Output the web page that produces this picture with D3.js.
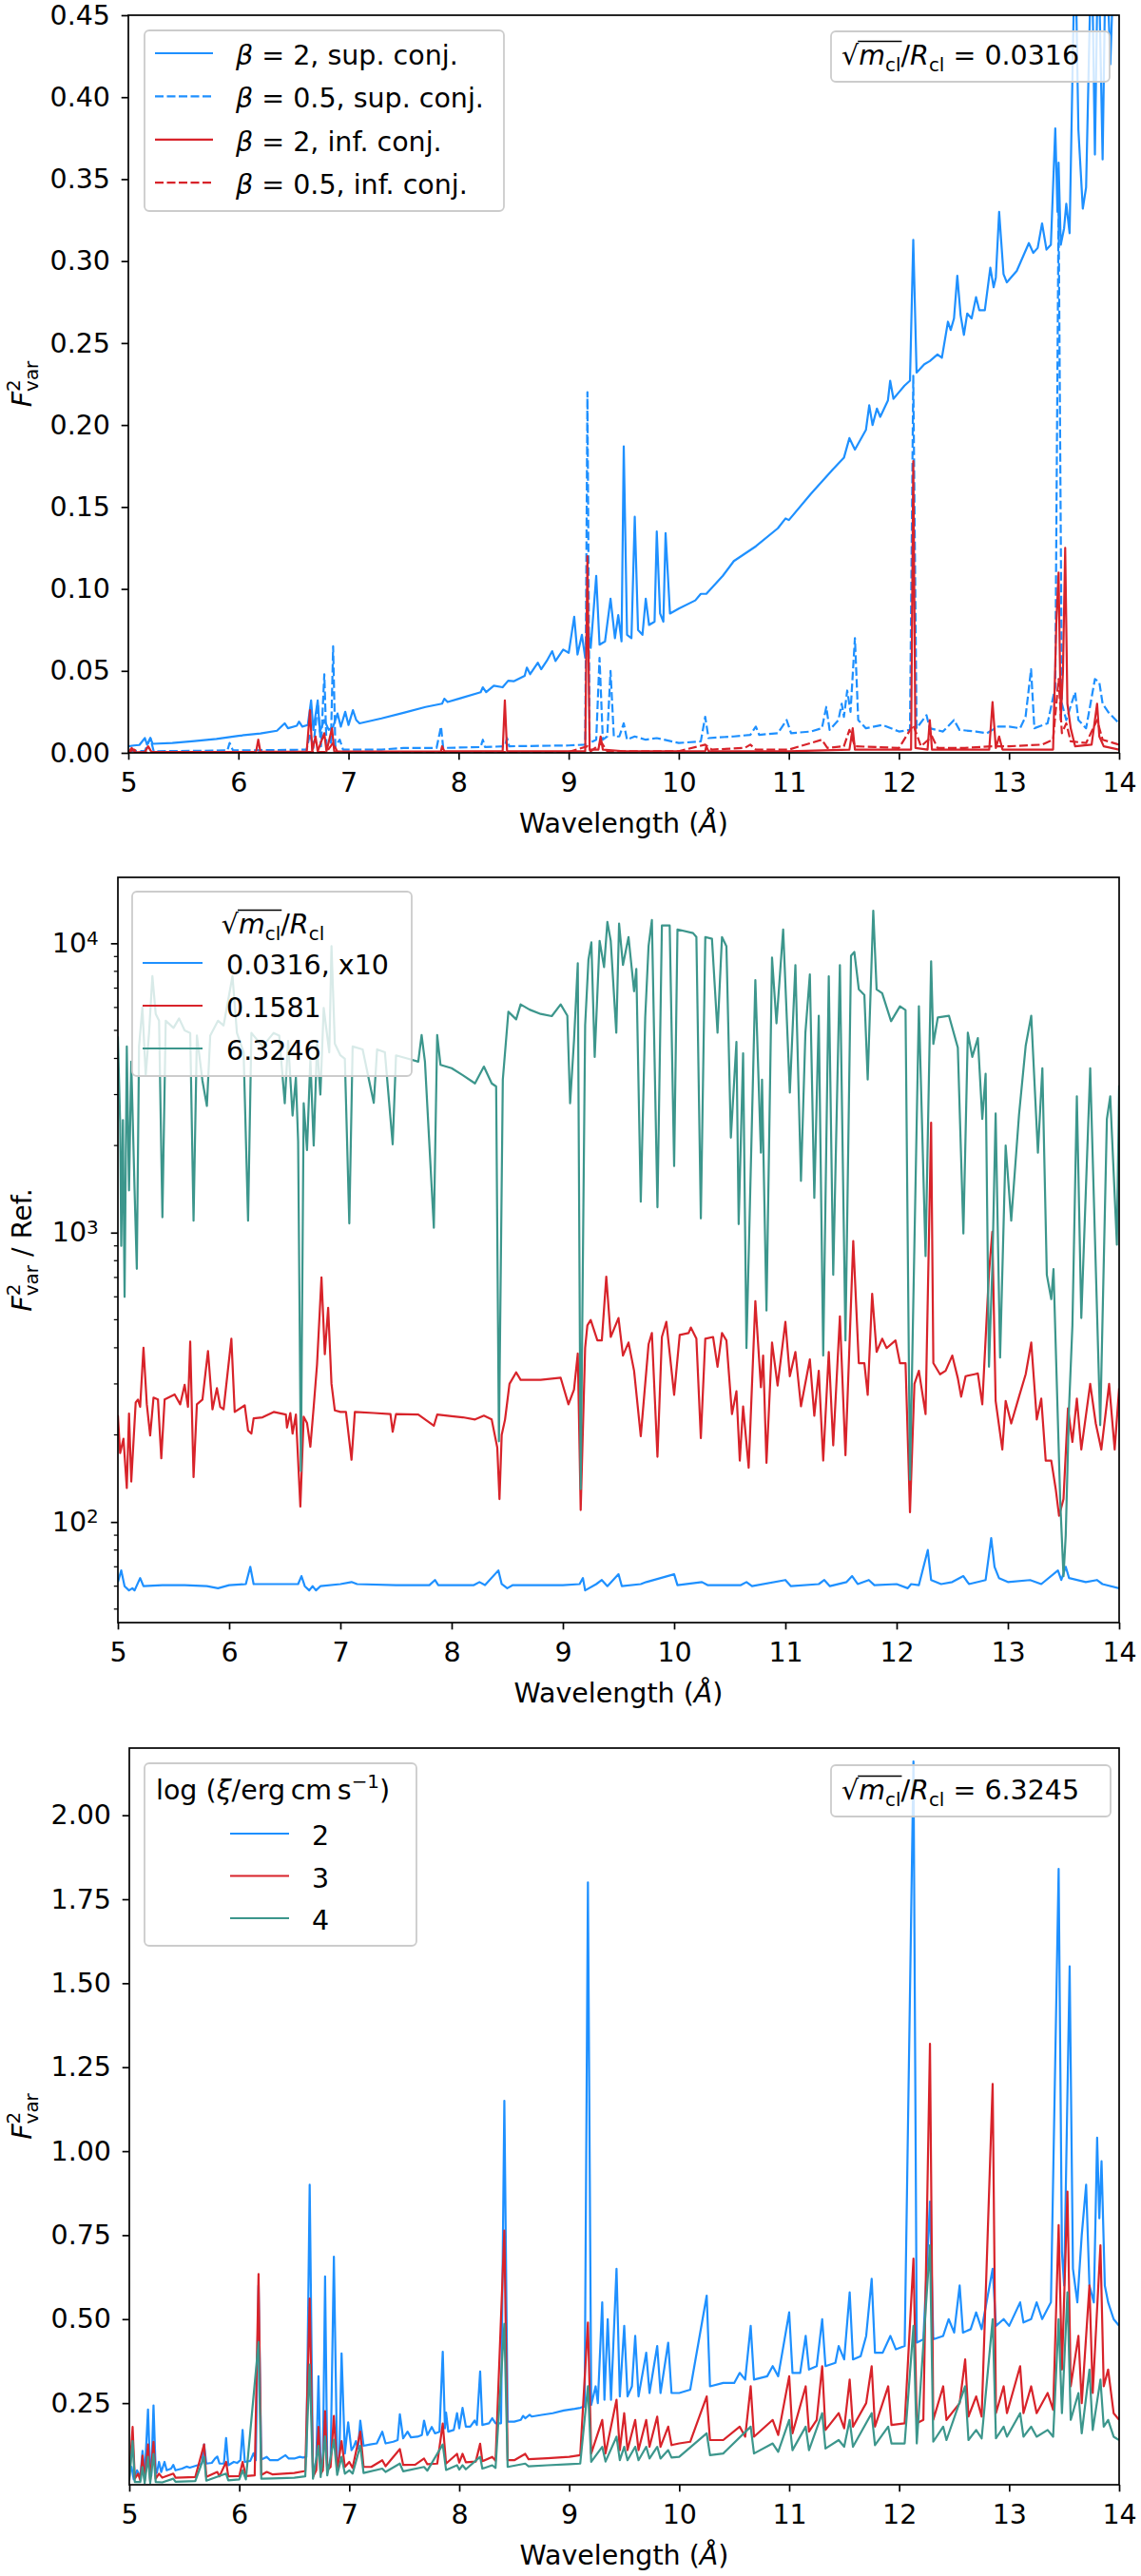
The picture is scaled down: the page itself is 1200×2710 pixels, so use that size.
<!DOCTYPE html>
<html>
<head>
<meta charset="utf-8">
<script src="https://cdn.jsdelivr.net/npm/d3@7"></script>
<style>
  body { margin: 0; background: #fff; }
  text { font-family: "DejaVu Sans", sans-serif; fill: #000; white-space: pre; }
</style>
</head>
<body>
<div id="container"></div>
<script>
/* DATA: [wavelength (Å), value] */

const xTicks = [5, 6, 7, 8, 9, 10, 11, 12, 13, 14];
const p1YTicks = [0, 0.05, 0.10, 0.15, 0.20, 0.25, 0.30, 0.35, 0.40, 0.45];
const p2Decades = [100, 1000, 10000];
const p3YTicks = [0.25, 0.50, 0.75, 1.00, 1.25, 1.50, 1.75, 2.00];

// top panel: beta = 2 / 0.5, superior / inferior conjunction
const p1Sup2 = [[5.00,0.004],[5.05,0.0045],[5.10,0.0048],[5.15,0.009],[5.17,0.005],[5.20,0.009],[5.22,0.0055],[5.40,0.006],[5.60,0.0072],[5.80,0.0085],[6.00,0.0104],[6.20,0.0118],[6.35,0.0135],[6.42,0.018],[6.45,0.015],[6.53,0.0165],[6.55,0.019],[6.58,0.016],[6.63,0.017],[6.66,0.032],[6.68,0.014],[6.72,0.032],[6.74,0.013],[6.78,0.020],[6.82,0.014],[6.86,0.016],[6.90,0.024],[6.93,0.016],[6.97,0.025],[7.00,0.017],[7.04,0.026],[7.07,0.020],[7.10,0.018],[7.30,0.021],[7.50,0.0244],[7.70,0.028],[7.85,0.030],[7.87,0.033],[7.90,0.031],[8.00,0.033],[8.20,0.037],[8.22,0.040],[8.25,0.037],[8.32,0.041],[8.40,0.040],[8.45,0.044],[8.50,0.0437],[8.60,0.047],[8.62,0.052],[8.65,0.048],[8.72,0.055],[8.75,0.051],[8.80,0.056],[8.85,0.062],[8.88,0.056],[8.95,0.063],[9.00,0.061],[9.05,0.083],[9.08,0.060],[9.12,0.072],[9.15,0.058],[9.17,0.078],[9.20,0.064],[9.25,0.108],[9.28,0.066],[9.33,0.068],[9.38,0.094],[9.42,0.070],[9.45,0.084],[9.48,0.068],[9.50,0.187],[9.53,0.072],[9.57,0.070],[9.60,0.144],[9.63,0.075],[9.67,0.072],[9.70,0.094],[9.73,0.078],[9.78,0.080],[9.80,0.135],[9.83,0.085],[9.86,0.080],[9.88,0.134],[9.92,0.085],[10.00,0.088],[10.15,0.093],[10.20,0.097],[10.25,0.097],[10.40,0.108],[10.50,0.117],[10.70,0.126],[10.90,0.137],[10.97,0.143],[11.00,0.142],[11.20,0.158],[11.40,0.173],[11.50,0.180],[11.55,0.192],[11.60,0.185],[11.70,0.197],[11.73,0.212],[11.76,0.200],[11.80,0.210],[11.83,0.205],[11.90,0.215],[11.92,0.227],[11.95,0.216],[12.00,0.220],[12.05,0.224],[12.10,0.227],[12.13,0.313],[12.16,0.232],[12.23,0.237],[12.28,0.239],[12.35,0.243],[12.39,0.241],[12.445,0.263],[12.47,0.258],[12.50,0.265],[12.53,0.291],[12.56,0.267],[12.59,0.255],[12.62,0.268],[12.66,0.265],[12.70,0.278],[12.73,0.270],[12.78,0.270],[12.83,0.296],[12.86,0.284],[12.88,0.290],[12.91,0.330],[12.95,0.292],[12.98,0.287],[13.07,0.294],[13.18,0.311],[13.22,0.305],[13.26,0.308],[13.30,0.323],[13.34,0.307],[13.38,0.310],[13.42,0.381],[13.44,0.330],[13.45,0.360],[13.47,0.310],[13.50,0.320],[13.52,0.335],[13.55,0.317],[13.60,0.500],[13.63,0.380],[13.67,0.332],[13.70,0.345],[13.75,0.500],[13.78,0.365],[13.81,0.500],[13.85,0.362],[13.88,0.500],[13.92,0.420],[13.96,0.500],[14.00,0.450]];

const p1Sup05 = [[5.00,0.001],[5.15,0.0012],[5.20,0.009],[5.23,0.001],[5.60,0.0012],[5.90,0.0015],[5.92,0.006],[5.95,0.0015],[6.50,0.0018],[6.62,0.002],[6.65,0.012],[6.68,0.003],[6.72,0.030],[6.75,0.004],[6.78,0.048],[6.80,0.004],[6.84,0.006],[6.86,0.065],[6.88,0.004],[6.92,0.008],[6.95,0.002],[7.30,0.002],[7.50,0.003],[7.80,0.003],[7.84,0.016],[7.86,0.003],[8.20,0.0035],[8.22,0.008],[8.24,0.0035],[8.42,0.004],[8.44,0.009],[8.46,0.004],[9.00,0.0045],[9.15,0.005],[9.17,0.220],[9.19,0.006],[9.25,0.008],[9.28,0.058],[9.31,0.008],[9.35,0.010],[9.38,0.050],[9.41,0.010],[9.46,0.010],[9.50,0.018],[9.53,0.008],[9.60,0.010],[9.70,0.008],[9.80,0.009],[10.00,0.006],[10.20,0.007],[10.24,0.022],[10.27,0.009],[10.50,0.010],[10.65,0.011],[10.70,0.016],[10.73,0.011],[10.90,0.012],[10.98,0.020],[11.02,0.012],[11.20,0.013],[11.30,0.015],[11.34,0.028],[11.37,0.014],[11.45,0.020],[11.48,0.030],[11.50,0.022],[11.53,0.038],[11.56,0.025],[11.60,0.070],[11.63,0.020],[11.70,0.015],[11.85,0.017],[12.00,0.013],[12.10,0.014],[12.13,0.230],[12.16,0.015],[12.25,0.023],[12.28,0.015],[12.40,0.013],[12.50,0.020],[12.55,0.014],[12.70,0.013],[12.80,0.012],[12.90,0.016],[13.00,0.016],[13.10,0.015],[13.15,0.022],[13.20,0.051],[13.23,0.015],[13.35,0.018],[13.42,0.040],[13.45,0.335],[13.48,0.030],[13.52,0.020],[13.60,0.037],[13.63,0.020],[13.70,0.015],[13.78,0.045],[13.82,0.043],[13.85,0.030],[13.90,0.025],[14.00,0.018]];

const p1Inf2 = [[5.00,0.0004],[5.03,0.003],[5.06,0.0004],[5.15,0.0005],[5.18,0.004],[5.21,0.0005],[5.60,0.0005],[6.16,0.0006],[6.18,0.008],[6.20,0.0006],[6.62,0.0008],[6.65,0.026],[6.67,0.001],[6.70,0.010],[6.72,0.001],[6.78,0.012],[6.80,0.001],[6.85,0.015],[6.87,0.001],[7.10,0.0008],[7.84,0.001],[7.85,0.004],[7.87,0.001],[8.40,0.001],[8.42,0.032],[8.44,0.001],[9.15,0.001],[9.17,0.120],[9.19,0.002],[9.27,0.002],[9.29,0.010],[9.31,0.002],[9.50,0.001],[10.24,0.001],[10.25,0.004],[10.27,0.001],[11.00,0.001],[11.55,0.002],[11.58,0.015],[11.60,0.002],[12.11,0.002],[12.13,0.178],[12.15,0.003],[12.26,0.002],[12.28,0.020],[12.30,0.002],[12.82,0.002],[12.85,0.031],[12.88,0.003],[12.91,0.010],[12.94,0.002],[13.40,0.002],[13.43,0.080],[13.45,0.110],[13.47,0.020],[13.49,0.050],[13.51,0.125],[13.53,0.030],[13.56,0.015],[13.60,0.004],[13.75,0.005],[13.80,0.030],[13.82,0.010],[13.86,0.004],[14.00,0.002]];

const p1Inf05 = [[5.00,0.0003],[5.05,0.002],[5.10,0.0003],[6.00,0.0003],[6.80,0.0005],[6.86,0.006],[6.90,0.0005],[9.00,0.0005],[9.17,0.004],[9.20,0.001],[9.30,0.006],[9.35,0.001],[10.00,0.001],[10.24,0.005],[10.30,0.002],[10.60,0.003],[10.65,0.005],[10.70,0.002],[11.00,0.002],[11.30,0.008],[11.35,0.003],[11.50,0.004],[11.55,0.014],[11.60,0.004],[12.00,0.003],[12.13,0.017],[12.20,0.004],[12.30,0.010],[12.35,0.003],[12.60,0.003],[12.85,0.004],[13.00,0.004],[13.30,0.005],[13.40,0.008],[13.45,0.045],[13.48,0.012],[13.52,0.018],[13.56,0.007],[13.70,0.006],[13.80,0.020],[13.85,0.008],[14.00,0.005]];

// middle panel: F2var / Ref. for three sqrt(m_cl)/R_cl
const p2R0316 = [[5.00,62],[5.03,68],[5.06,60],[5.10,58],[5.13,59],[5.15,58],[5.20,64],[5.23,60],[5.40,60.5],[5.60,60.5],[5.80,60],[5.90,59],[6.00,60.5],[6.15,61],[6.19,70],[6.22,61],[6.50,61],[6.62,61],[6.65,65],[6.68,60],[6.72,58],[6.75,60],[6.78,58],[6.82,60],[7.00,61],[7.10,62],[7.15,61],[7.50,60.5],[7.80,60.5],[7.85,63],[7.88,60.5],[8.20,60.5],[8.25,62],[8.30,60.5],[8.42,68],[8.45,61],[8.50,59],[8.55,60.5],[9.00,60.5],[9.15,61],[9.18,64],[9.20,58],[9.30,61],[9.35,63],[9.40,60],[9.50,66],[9.53,60],[9.70,61],[9.75,62],[10.00,66],[10.03,60.5],[10.25,62],[10.30,60.5],[10.60,60.5],[10.65,62],[10.70,60],[11.00,63],[11.05,60],[11.30,61],[11.35,63],[11.40,60],[11.55,62],[11.60,65],[11.65,61],[11.75,63],[11.80,60.5],[12.00,61],[12.10,59],[12.13,61],[12.20,60.5],[12.28,80],[12.31,63],[12.40,61],[12.50,62],[12.60,65],[12.65,61],[12.80,63],[12.85,88],[12.88,70],[12.92,64],[13.00,62],[13.20,63],[13.30,61],[13.45,68],[13.48,63],[13.52,70],[13.55,64],[13.70,62],[13.80,63],[13.85,61],[14.00,59]];

const p2R1581 = [[5.00,234],[5.02,173],[5.05,194],[5.08,131],[5.10,237],[5.12,138],[5.16,259],[5.18,265],[5.20,250],[5.23,400],[5.26,255],[5.29,199],[5.32,269],[5.36,265],[5.39,166],[5.42,265],[5.51,276],[5.56,255],[5.60,298],[5.63,250],[5.65,420],[5.68,143],[5.71,255],[5.76,265],[5.81,390],[5.85,245],[5.89,290],[5.92,250],[5.95,245],[6.02,430],[6.05,240],[6.14,253],[6.17,207],[6.20,202],[6.22,228],[6.30,230],[6.40,240],[6.51,235],[6.52,212],[6.55,238],[6.57,202],[6.60,235],[6.64,113],[6.67,231],[6.70,220],[6.73,182],[6.76,250],[6.79,350],[6.83,700],[6.86,380],[6.89,550],[6.92,300],[6.95,243],[7.00,240],[7.05,240],[7.10,164],[7.13,240],[7.30,238],[7.45,236],[7.47,205],[7.50,236],[7.70,235],[7.84,215],[7.87,235],[8.00,232],[8.10,230],[8.21,226],[8.29,233],[8.36,226],[8.41,181],[8.43,120],[8.45,200],[8.48,226],[8.52,300],[8.58,329],[8.62,310],[8.80,310],[8.98,315],[9.05,255],[9.10,287],[9.134,382],[9.16,110],[9.20,400],[9.22,478],[9.25,499],[9.31,424],[9.35,424],[9.39,704],[9.43,436],[9.50,507],[9.54,376],[9.59,417],[9.64,333],[9.70,198],[9.77,411],[9.80,450],[9.85,168],[9.89,436],[9.93,492],[10.00,275],[10.05,443],[10.13,450],[10.15,470],[10.20,430],[10.24,195],[10.28,430],[10.35,436],[10.39,344],[10.43,450],[10.47,424],[10.52,236],[10.56,283],[10.59,163],[10.62,251],[10.67,154],[10.73,580],[10.78,292],[10.80,376],[10.83,160],[10.88,417],[10.93,296],[11.00,492],[11.04,319],[11.09,387],[11.14,251],[11.22,365],[11.26,233],[11.30,333],[11.34,163],[11.39,387],[11.43,184],[11.49,514],[11.54,170],[11.61,935],[11.66,354],[11.71,354],[11.74,275],[11.78,615],[11.82,387],[11.87,430],[11.91,399],[11.99,424],[12.03,354],[12.08,354],[12.12,108],[12.16,300],[12.20,333],[12.26,236],[12.31,2400],[12.33,354],[12.39,324],[12.44,333],[12.50,376],[12.55,314],[12.58,271],[12.62,319],[12.70,324],[12.73,326],[12.77,255],[12.83,726],[12.86,1007],[12.89,262],[12.95,178],[12.98,262],[13.03,219],[13.10,271],[13.16,324],[13.21,417],[13.26,226],[13.30,267],[13.34,163],[13.39,163],[13.43,130],[13.46,105],[13.50,120],[13.54,247],[13.58,189],[13.62,267],[13.66,178],[13.74,300],[13.79,219],[13.84,178],[13.91,300],[13.96,178],[14.00,290]];

const p2R6325 = [[5.00,4770],[5.02,2400],[5.03,900],[5.045,2450],[5.06,600],[5.08,4400],[5.10,1400],[5.12,3900],[5.15,1400],[5.17,750],[5.19,4400],[5.22,6000],[5.25,3500],[5.28,4900],[5.31,7700],[5.34,5700],[5.37,5400],[5.40,1130],[5.43,5400],[5.50,5100],[5.55,5500],[5.60,5000],[5.65,4900],[5.68,1100],[5.71,4800],[5.76,3350],[5.80,2740],[5.83,4800],[5.90,5400],[5.95,5200],[6.03,7700],[6.07,4900],[6.13,4200],[6.17,1100],[6.20,4900],[6.30,4400],[6.40,4900],[6.45,4800],[6.50,2800],[6.53,4600],[6.57,2540],[6.60,3440],[6.62,2070],[6.645,150],[6.67,2800],[6.70,1930],[6.73,4000],[6.76,2000],[6.79,4500],[6.82,3000],[6.85,5980],[6.90,4200],[6.92,9770],[6.95,4500],[7.00,4100],[7.04,3990],[7.08,1076],[7.11,4400],[7.20,4300],[7.30,2810],[7.33,4300],[7.40,4200],[7.47,2020],[7.50,4100],[7.60,4000],[7.70,3900],[7.73,4820],[7.76,3900],[7.84,1040],[7.87,4820],[7.90,3800],[8.00,3700],[8.10,3500],[8.21,3280],[8.29,3750],[8.36,3280],[8.40,3200],[8.425,190],[8.46,3380],[8.51,5800],[8.58,5460],[8.62,6150],[8.70,5900],[8.80,5700],[8.90,5600],[8.98,6150],[9.04,5620],[9.065,2800],[9.10,4620],[9.134,8530],[9.16,130],[9.20,5210],[9.23,8790],[9.256,10070],[9.286,4050],[9.33,10200],[9.37,8280],[9.40,11860],[9.43,10200],[9.48,4910],[9.505,11690],[9.54,8410],[9.59,10510],[9.64,6830],[9.66,8160],[9.70,1280],[9.74,5540],[9.77,9770],[9.80,12040],[9.85,1224],[9.89,11520],[9.96,11520],[10.00,1700],[10.03,11170],[10.17,10850],[10.20,10510],[10.24,1120],[10.28,10510],[10.34,10370],[10.39,4910],[10.43,10510],[10.47,9770],[10.51,2130],[10.56,4560],[10.58,1070],[10.62,4170],[10.65,399],[10.73,7460],[10.78,1890],[10.79,3380],[10.83,538],[10.88,8930],[10.92,5290],[10.98,11170],[11.04,3050],[11.09,8410],[11.14,1510],[11.18,4910],[11.22,7810],[11.26,1318],[11.30,5620],[11.34,376],[11.39,7690],[11.43,715],[11.49,8410],[11.54,424],[11.59,9060],[11.62,9330],[11.66,6930],[11.71,6630],[11.74,3380],[11.79,12970],[11.82,6930],[11.87,6720],[11.95,5380],[12.03,6060],[12.08,5880],[12.12,140],[12.20,6060],[12.26,830],[12.31,8660],[12.33,4490],[12.37,5540],[12.47,5620],[12.55,4360],[12.60,993],[12.64,4910],[12.68,4050],[12.73,4700],[12.77,2470],[12.80,3540],[12.83,344],[12.86,748],[12.89,2580],[12.93,370],[12.98,2000],[13.03,1100],[13.10,2550],[13.16,4420],[13.21,5620],[13.27,1890],[13.31,3700],[13.35,715],[13.39,589],[13.41,748],[13.47,120],[13.50,65],[13.52,90],[13.55,250],[13.58,478],[13.62,2960],[13.66,507],[13.74,3700],[13.83,216],[13.89,2470],[13.92,2960],[13.98,908],[14.00,3230]];

// bottom panel: log xi = 2, 3, 4
const p3Xi2 = [[5.00,0.047],[5.02,0.060],[5.04,0.023],[5.07,0.050],[5.10,0.030],[5.12,0.108],[5.14,0.035],[5.17,0.231],[5.19,0.040],[5.20,0.033],[5.22,0.243],[5.24,0.045],[5.25,0.042],[5.27,0.075],[5.29,0.045],[5.32,0.075],[5.34,0.050],[5.38,0.055],[5.40,0.066],[5.42,0.050],[5.48,0.055],[5.52,0.061],[5.55,0.058],[5.62,0.065],[5.66,0.070],[5.68,0.127],[5.70,0.070],[5.75,0.072],[5.78,0.085],[5.80,0.091],[5.82,0.070],[5.86,0.070],[5.88,0.146],[5.90,0.065],[5.95,0.075],[5.98,0.072],[6.01,0.080],[6.03,0.170],[6.05,0.075],[6.10,0.078],[6.13,0.101],[6.15,0.080],[6.175,0.600],[6.20,0.082],[6.25,0.090],[6.28,0.080],[6.35,0.080],[6.42,0.095],[6.45,0.085],[6.50,0.085],[6.55,0.090],[6.58,0.088],[6.61,0.090],[6.64,0.900],[6.67,0.033],[6.70,0.080],[6.72,0.330],[6.74,0.052],[6.76,0.060],[6.78,0.627],[6.80,0.060],[6.83,0.070],[6.86,0.686],[6.89,0.065],[6.91,0.090],[6.93,0.398],[6.96,0.100],[6.99,0.193],[7.02,0.110],[7.04,0.120],[7.06,0.137],[7.08,0.115],[7.10,0.198],[7.13,0.123],[7.19,0.127],[7.25,0.130],[7.30,0.165],[7.33,0.130],[7.40,0.135],[7.44,0.140],[7.46,0.217],[7.49,0.145],[7.53,0.165],[7.56,0.148],[7.62,0.150],[7.66,0.155],[7.68,0.198],[7.71,0.155],[7.75,0.179],[7.78,0.160],[7.82,0.165],[7.85,0.403],[7.87,0.175],[7.88,0.222],[7.90,0.165],[7.95,0.170],[7.98,0.220],[8.00,0.175],[8.03,0.236],[8.06,0.180],[8.10,0.180],[8.14,0.198],[8.16,0.185],[8.19,0.344],[8.21,0.185],[8.27,0.190],[8.30,0.205],[8.33,0.190],[8.38,0.190],[8.41,1.150],[8.44,0.195],[8.50,0.195],[8.56,0.200],[8.58,0.212],[8.60,0.205],[8.64,0.215],[8.66,0.210],[8.75,0.215],[8.85,0.220],[8.95,0.228],[9.05,0.233],[9.10,0.236],[9.14,0.240],[9.17,1.800],[9.20,0.245],[9.24,0.300],[9.26,0.250],[9.30,0.550],[9.32,0.260],[9.35,0.500],[9.38,0.260],[9.43,0.650],[9.46,0.270],[9.50,0.480],[9.53,0.270],[9.57,0.300],[9.60,0.450],[9.63,0.270],[9.70,0.400],[9.73,0.280],[9.80,0.420],[9.83,0.280],[9.90,0.430],[9.93,0.280],[10.00,0.280],[10.10,0.290],[10.25,0.570],[10.28,0.300],[10.40,0.310],[10.50,0.310],[10.55,0.340],[10.60,0.320],[10.65,0.480],[10.68,0.320],[10.80,0.330],[10.85,0.360],[10.90,0.330],[11.00,0.520],[11.03,0.340],[11.10,0.340],[11.15,0.450],[11.18,0.350],[11.25,0.360],[11.30,0.500],[11.33,0.360],[11.42,0.370],[11.45,0.420],[11.50,0.380],[11.55,0.580],[11.58,0.380],[11.65,0.390],[11.70,0.450],[11.75,0.620],[11.78,0.400],[11.85,0.400],[11.92,0.450],[11.97,0.410],[12.05,0.420],[12.13,2.160],[12.16,0.430],[12.22,0.440],[12.28,0.850],[12.31,0.440],[12.40,0.450],[12.45,0.500],[12.50,0.460],[12.55,0.600],[12.58,0.460],[12.65,0.470],[12.70,0.520],[12.75,0.470],[12.85,0.650],[12.88,0.480],[12.95,0.500],[13.00,0.480],[13.10,0.550],[13.13,0.490],[13.20,0.500],[13.25,0.550],[13.30,0.500],[13.38,0.550],[13.45,1.840],[13.48,0.700],[13.50,0.600],[13.55,1.550],[13.58,0.650],[13.62,0.550],[13.66,0.750],[13.70,0.900],[13.73,0.600],[13.77,0.550],[13.80,1.040],[13.82,0.800],[13.84,0.970],[13.87,0.600],[13.90,0.550],[13.95,0.500],[14.00,0.480]];

const p3Xi3 = [[5.00,0.030],[5.03,0.179],[5.05,0.025],[5.08,0.040],[5.10,0.020],[5.12,0.094],[5.14,0.020],[5.17,0.127],[5.19,0.020],[5.22,0.135],[5.24,0.025],[5.27,0.040],[5.30,0.028],[5.40,0.040],[5.42,0.028],[5.60,0.030],[5.68,0.127],[5.70,0.030],[5.80,0.045],[5.82,0.032],[5.88,0.075],[5.90,0.032],[6.00,0.033],[6.03,0.075],[6.06,0.033],[6.14,0.035],[6.175,0.634],[6.20,0.036],[6.25,0.045],[6.30,0.038],[6.50,0.042],[6.60,0.048],[6.64,0.561],[6.67,0.030],[6.70,0.050],[6.72,0.179],[6.74,0.040],[6.76,0.050],[6.78,0.226],[6.80,0.050],[6.83,0.060],[6.86,0.212],[6.89,0.050],[6.93,0.137],[6.96,0.060],[7.00,0.075],[7.03,0.057],[7.10,0.165],[7.13,0.060],[7.20,0.060],[7.30,0.080],[7.33,0.062],[7.46,0.113],[7.49,0.066],[7.60,0.067],[7.68,0.085],[7.71,0.068],[7.80,0.070],[7.85,0.189],[7.88,0.070],[7.98,0.099],[8.00,0.073],[8.03,0.099],[8.06,0.074],[8.15,0.076],[8.19,0.129],[8.21,0.077],[8.30,0.090],[8.33,0.078],[8.41,0.764],[8.44,0.080],[8.50,0.080],[8.60,0.099],[8.63,0.083],[8.80,0.086],[9.00,0.090],[9.10,0.095],[9.17,0.490],[9.20,0.100],[9.30,0.200],[9.33,0.100],[9.43,0.260],[9.46,0.110],[9.50,0.220],[9.53,0.110],[9.60,0.200],[9.63,0.110],[9.70,0.200],[9.73,0.120],[9.80,0.210],[9.83,0.120],[9.90,0.180],[9.93,0.125],[10.00,0.130],[10.10,0.135],[10.25,0.270],[10.28,0.140],[10.40,0.140],[10.55,0.180],[10.60,0.150],[10.65,0.300],[10.68,0.150],[10.85,0.200],[10.90,0.155],[11.00,0.330],[11.03,0.160],[11.15,0.300],[11.18,0.165],[11.25,0.200],[11.30,0.360],[11.33,0.170],[11.45,0.220],[11.50,0.175],[11.55,0.320],[11.58,0.180],[11.70,0.250],[11.75,0.360],[11.78,0.180],[11.90,0.300],[11.93,0.185],[12.05,0.190],[12.13,0.680],[12.16,0.190],[12.22,0.200],[12.28,1.320],[12.31,0.200],[12.40,0.300],[12.43,0.200],[12.55,0.250],[12.60,0.380],[12.63,0.210],[12.70,0.270],[12.75,0.210],[12.85,1.200],[12.88,0.220],[12.95,0.300],[12.98,0.220],[13.10,0.360],[13.13,0.220],[13.20,0.300],[13.25,0.220],[13.35,0.280],[13.40,0.230],[13.45,0.780],[13.48,0.350],[13.53,0.880],[13.56,0.300],[13.63,0.450],[13.66,0.250],[13.73,0.600],[13.76,0.280],[13.83,0.720],[13.86,0.300],[13.90,0.350],[13.95,0.220],[14.00,0.200]];

const p3Xi4 = [[5.00,0.020],[5.03,0.137],[5.05,0.015],[5.10,0.015],[5.12,0.060],[5.14,0.012],[5.17,0.090],[5.19,0.012],[5.22,0.099],[5.24,0.015],[5.30,0.014],[5.40,0.025],[5.42,0.016],[5.60,0.018],[5.68,0.090],[5.70,0.019],[5.88,0.040],[5.90,0.020],[6.00,0.023],[6.03,0.050],[6.06,0.023],[6.175,0.432],[6.20,0.025],[6.30,0.026],[6.50,0.028],[6.60,0.032],[6.64,0.365],[6.67,0.025],[6.72,0.123],[6.74,0.030],[6.78,0.151],[6.80,0.035],[6.86,0.141],[6.89,0.036],[6.93,0.090],[6.96,0.040],[7.00,0.050],[7.03,0.040],[7.10,0.123],[7.13,0.042],[7.30,0.055],[7.33,0.045],[7.46,0.070],[7.49,0.047],[7.68,0.060],[7.71,0.049],[7.85,0.127],[7.88,0.051],[7.98,0.065],[8.00,0.052],[8.03,0.065],[8.06,0.053],[8.19,0.090],[8.21,0.055],[8.30,0.065],[8.33,0.057],[8.41,0.486],[8.44,0.060],[8.60,0.070],[8.63,0.062],[8.80,0.065],[9.00,0.068],[9.10,0.070],[9.17,0.300],[9.20,0.075],[9.30,0.120],[9.33,0.076],[9.43,0.150],[9.46,0.080],[9.50,0.120],[9.53,0.080],[9.60,0.120],[9.63,0.080],[9.70,0.120],[9.73,0.085],[9.80,0.120],[9.83,0.085],[9.90,0.110],[9.93,0.088],[10.00,0.090],[10.25,0.160],[10.28,0.095],[10.40,0.100],[10.65,0.180],[10.68,0.100],[10.85,0.130],[10.90,0.105],[11.00,0.200],[11.03,0.110],[11.15,0.180],[11.18,0.110],[11.30,0.220],[11.33,0.115],[11.45,0.140],[11.50,0.120],[11.55,0.200],[11.58,0.120],[11.75,0.220],[11.78,0.125],[11.90,0.180],[11.93,0.130],[12.05,0.130],[12.13,0.480],[12.16,0.130],[12.28,0.720],[12.31,0.135],[12.40,0.180],[12.43,0.140],[12.60,0.300],[12.63,0.140],[12.70,0.170],[12.75,0.145],[12.85,0.500],[12.88,0.145],[12.95,0.180],[12.98,0.150],[13.10,0.220],[13.13,0.150],[13.20,0.180],[13.25,0.150],[13.35,0.170],[13.40,0.150],[13.45,0.500],[13.48,0.220],[13.53,0.580],[13.56,0.200],[13.63,0.280],[13.66,0.160],[13.73,0.350],[13.76,0.170],[13.83,0.320],[13.86,0.180],[13.90,0.200],[13.95,0.150],[14.00,0.140]];

/* CONSTANTS */
const BLUE = "#1e90ff", RED = "#d8232a", TEAL = "#3c968c";
const FS = 28.5, LW = 2.2, RIGHT = 1177;

const svg = d3.select("#container").append("svg")
  .attr("width", 1200)
  .attr("height", 2710);

// text with italic / sub / sup pieces, like matplotlib mathtext
function mathText(parent, x, y, parts, anchor) {
  const t = parent.append("text")
    .attr("x", x).attr("y", y)
    .attr("font-size", FS)
    .attr("text-anchor", anchor || "start");
  let shift = 0, prev = null;
  parts.forEach(p => {
    const [s, kind] = typeof p === "string" ? [p, ""] : p;
    const k = kind.split(" ");
    const ts = t.append("tspan").text(s);
    let target = 0;
    if (k.includes("sub")) target = 0.24 * FS;
    if (k.includes("sup")) target = -0.42 * FS;
    if (k.includes("sub") || k.includes("sup")) ts.attr("font-size", FS * 0.7);
    if (target !== shift) { ts.attr("dy", target - shift); shift = target; }
    if (k.includes("it")) ts.attr("font-style", "italic");
    if (k.includes("stack") && prev) ts.attr("dx", -prev.node().getComputedTextLength());
    prev = ts;
  });
  return t;
}

// bar over the radicand of sqrt(m_cl)
function sqrtBar(parent, t, from, to) {
  const n = t.node();
  const a = n.getEndPositionOfChar(from).x - 1;
  const b = n.getEndPositionOfChar(to).x + 1;
  const yb = +t.attr("y") - 0.86 * FS;
  parent.append("line")
    .attr("x1", a).attr("x2", b).attr("y1", yb).attr("y2", yb)
    .attr("stroke", "#000").attr("stroke-width", 1.5);
}

const mRatio = [["√", ""], ["m", "it"], ["cl", "sub"], ["/", ""], ["R", "it"], ["cl", "sub"]];

function box(g, x0, y0, x1, y1) {
  g.append("rect")
    .attr("x", x0).attr("y", y0)
    .attr("width", x1 - x0).attr("height", y1 - y0)
    .attr("rx", 5)
    .attr("fill", "white").attr("fill-opacity", 0.8)
    .attr("stroke", "#cccccc").attr("stroke-width", 1.8);
}

function legendLine(g, x0, x1, yy, color, dash) {
  g.append("line")
    .attr("x1", x0).attr("x2", x1).attr("y1", yy).attr("y2", yy)
    .attr("stroke", color).attr("stroke-width", LW)
    .attr("stroke-dasharray", dash ? "9,3.5" : null);
}

function styleAxis(a) {
  a.select(".domain").remove();
  a.selectAll(".tick line").attr("stroke", "#000").attr("stroke-width", 1.7);
  a.selectAll(".tick text").attr("font-size", FS).attr("fill", "#000")
    .style("font-family", '"DejaVu Sans", sans-serif');
}

// one panel: scales, clipped lines, axes, frame
function panel(o) {
  const g = svg.append("g");
  const x = d3.scaleLinear().domain([5, 14]).range([o.left, RIGHT]);
  const y = (o.log ? d3.scaleLog() : d3.scaleLinear())
    .domain(o.yDomain).range([o.bottom, o.top]);

  g.append("clipPath").attr("id", "clip" + o.id)
    .append("rect")
    .attr("x", o.left).attr("y", o.top)
    .attr("width", RIGHT - o.left).attr("height", o.bottom - o.top);

  const lineGen = d3.line()
    .x(d => x(d[0]))
    .y(d => y(d[1]));

  const plot = g.append("g").attr("clip-path", `url(#clip${o.id})`);
  o.series.forEach(s => {
    plot.append("path")
      .datum(s.data)
      .attr("d", lineGen)
      .attr("fill", "none")
      .attr("stroke", s.color)
      .attr("stroke-width", LW)
      .attr("stroke-linejoin", "round")
      .attr("stroke-dasharray", s.dash ? "9,3.5" : null);
  });

  const xa = g.append("g")
    .attr("transform", `translate(0,${o.bottom})`)
    .call(d3.axisBottom(x).tickValues(xTicks).tickFormat(d3.format("d"))
      .tickSizeInner(7.3).tickSizeOuter(0).tickPadding(13));
  styleAxis(xa);

  let yAxis;
  if (o.log) {
    yAxis = d3.axisLeft(y).tickValues(p2Decades).tickFormat(() => "10")
      .tickSizeInner(7.3).tickSizeOuter(0).tickPadding(13);
  } else {
    yAxis = d3.axisLeft(y).tickValues(o.yTicks).tickFormat(d3.format(".2f"))
      .tickSizeInner(7.3).tickSizeOuter(0).tickPadding(11.7);
  }
  const ya = g.append("g").attr("transform", `translate(${o.left},0)`).call(yAxis);
  styleAxis(ya);

  if (o.log) {
    ya.selectAll(".tick text").each(function (d) {
      d3.select(this).append("tspan")
        .attr("dy", "-0.42em").attr("font-size", FS * 0.7)
        .text(Math.round(Math.log10(d)));
    });
    // minor ticks
    const minors = [];
    [10, 100, 1000, 10000].forEach(dec => {
      for (let k = 2; k <= 9; k++) {
        const v = dec * k;
        if (v > o.yDomain[0] && v < o.yDomain[1]) minors.push(v);
      }
    });
    g.selectAll(".minor" + o.id)
      .data(minors)
      .join("line")
      .attr("x1", o.left - 4.2).attr("x2", o.left)
      .attr("y1", d => y(d)).attr("y2", d => y(d))
      .attr("stroke", "#000").attr("stroke-width", 1.25);
  }

  g.append("rect")
    .attr("x", o.left).attr("y", o.top)
    .attr("width", RIGHT - o.left).attr("height", o.bottom - o.top)
    .attr("fill", "none").attr("stroke", "#000").attr("stroke-width", 1.7);

  // x label
  mathText(g, (o.left + RIGHT) / 2, o.bottom + 84,
    [["Wavelength (", ""], ["Å", "it"], [")", ""]], "middle");

  // y label
  const yl = g.append("g")
    .attr("transform", `translate(33,${(o.top + o.bottom) / 2}) rotate(-90)`);
  mathText(yl, 0, 0, o.yLabel, "middle");

  return g;
}

/* TOP PANEL */
const g1 = panel({
  id: 1, left: 135, top: 16, bottom: 792,
  yDomain: [0, 0.45], yTicks: p1YTicks,
  yLabel: [["F", "it"], ["2", "sup"], ["var", "sub stack"]],
  series: [
    { data: p1Sup2, color: BLUE },
    { data: p1Sup05, color: BLUE, dash: true },
    { data: p1Inf2, color: RED },
    { data: p1Inf05, color: RED, dash: true }
  ]
});

box(g1, 152, 32, 530, 222);
const p1Legend = [
  { beta: "2", side: "sup. conj.", color: BLUE, dash: false },
  { beta: "0.5", side: "sup. conj.", color: BLUE, dash: true },
  { beta: "2", side: "inf. conj.", color: RED, dash: false },
  { beta: "0.5", side: "inf. conj.", color: RED, dash: true }
];
p1Legend.forEach((d, i) => {
  const yy = 56 + i * 45.4;
  legendLine(g1, 163, 224, yy, d.color, d.dash);
  mathText(g1, 248, yy + 12, [["β", "it"], [" = " + d.beta + ", " + d.side, ""]]);
});

box(g1, 874, 33, 1167, 86);
const t1 = mathText(g1, 885, 68, mRatio.concat([[" = 0.0316", ""]]));
sqrtBar(g1, t1, 0, 3);

/* MIDDLE PANEL */
const g2 = panel({
  id: 2, left: 124, top: 923, bottom: 1707, log: true,
  yDomain: [44.9, 16900],
  yLabel: [["F", "it"], ["2", "sup"], ["var", "sub stack"], [" / Ref.", ""]],
  series: [
    { data: p2R0316, color: BLUE },
    { data: p2R1581, color: RED },
    { data: p2R6325, color: TEAL }
  ]
});

box(g2, 139, 938, 433, 1132);
const t2 = mathText(g2, 287, 982, mRatio, "middle");
sqrtBar(g2, t2, 0, 3);
const p2Legend = [
  { label: "0.0316, x10", color: BLUE },
  { label: "0.1581", color: RED },
  { label: "6.3246", color: TEAL }
];
p2Legend.forEach((d, i) => {
  const yy = 1013 + i * 45;
  legendLine(g2, 150, 213, yy, d.color);
  mathText(g2, 238, yy + 12, [[d.label, ""]]);
});

/* BOTTOM PANEL */
const g3 = panel({
  id: 3, left: 136, top: 1839, bottom: 2614,
  yDomain: [0.007, 2.2], yTicks: p3YTicks,
  yLabel: [["F", "it"], ["2", "sup"], ["var", "sub stack"]],
  series: [
    { data: p3Xi2, color: BLUE },
    { data: p3Xi3, color: RED },
    { data: p3Xi4, color: TEAL }
  ]
});

box(g3, 152, 1855, 438, 2047);
mathText(g3, 164, 1893, [["log (", ""], ["ξ", "it"], ["/erg\u2009cm\u2009s", ""], ["−1", "sup"], [")", ""]]);
const p3Legend = [
  { label: "2", color: BLUE },
  { label: "3", color: RED },
  { label: "4", color: TEAL }
];
p3Legend.forEach((d, i) => {
  const yy = 1929 + i * 44.5;
  legendLine(g3, 242, 304, yy, d.color);
  mathText(g3, 328, yy + 12, [[d.label, ""]]);
});

box(g3, 874, 1857, 1168, 1911);
const t3 = mathText(g3, 885, 1893, mRatio.concat([[" = 6.3245", ""]]));
sqrtBar(g3, t3, 0, 3);
</script>
</body>
</html>
